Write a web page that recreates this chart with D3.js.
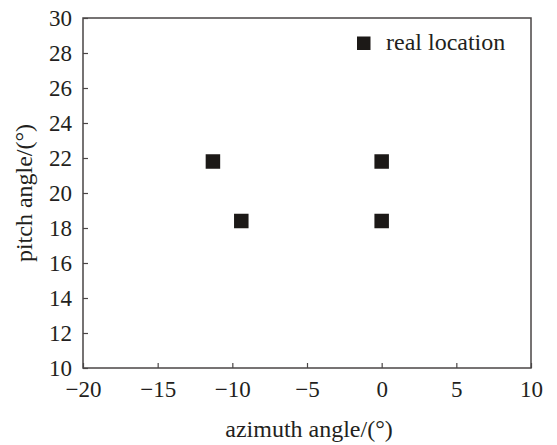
<!DOCTYPE html>
<html>
<head>
<meta charset="utf-8">
<script src="https://cdn.jsdelivr.net/npm/d3@7"></script>
<style>
  body { margin: 0; background: #fff; }
</style>
</head>
<body>
<div id="chart"></div>
<script>
// data
let azimuth = [-11.3, -9.4, 0, 0];
let pitch = [21.8, 18.4, 21.8, 18.4];
let x_ticks = [-20, -15, -10, -5, 0, 5, 10];
let y_ticks = [10, 12, 14, 16, 18, 20, 22, 24, 26, 28, 30];
let series_name = "real location";

let width = 557, height = 445;
let margin = {top: 18, right: 26, bottom: 77, left: 83};
let font = "'Liberation Serif', 'Times New Roman', serif";

let svg = d3.select("#chart")
            .append("svg")
            .attr("width", width)
            .attr("height", height);

let x = d3.scaleLinear()
          .domain([-20, 10])
          .range([margin.left, width - margin.right]);

let y = d3.scaleLinear()
          .domain([10, 30])
          .range([height - margin.bottom, margin.top]);

let axis_color = "#4a4646";

// frame
svg.append("rect")
   .attr("x", x(-20))
   .attr("y", y(30))
   .attr("width", x(10) - x(-20))
   .attr("height", y(10) - y(30))
   .style("fill", "none")
   .style("stroke", axis_color)
   .style("stroke-width", 1.5);

// bottom axis, ticks inside
svg.append("g")
   .attr("transform", "translate(0," + y(10) + ")")
   .attr("font-family", font)
   .call(d3.axisBottom(x).tickValues(x_ticks).tickSize(-5).tickPadding(13)
           .tickFormat(d => d < 0 ? "\u2212" + Math.abs(d) : d))
   .call(g => g.select(".domain").remove())
   .call(g => g.selectAll("line").attr("stroke", axis_color).attr("stroke-width", 1.2))
   .call(g => g.selectAll("text").style("font-family", font).style("font-size", "23px").attr("fill", "#231f20"));

// left axis, ticks inside
svg.append("g")
   .attr("transform", "translate(" + x(-20) + ",0)")
   .attr("font-family", font)
   .call(d3.axisLeft(y).tickValues(y_ticks).tickSize(-5).tickPadding(11))
   .call(g => g.select(".domain").remove())
   .call(g => g.selectAll("line").attr("stroke", axis_color).attr("stroke-width", 1.2))
   .call(g => g.selectAll("text").style("font-family", font).style("font-size", "23px").attr("fill", "#231f20"));

// axis titles
svg.append("text")
   .attr("x", 309)
   .attr("y", 437)
   .attr("text-anchor", "middle")
   .style("font-family", font)
   .style("font-size", "24px")
   .style("fill", "#231f20")
   .text("azimuth angle/(\u00b0)");

svg.append("text")
   .attr("transform", "translate(32," + ((y(10) + y(30)) / 2) + ") rotate(-90)")
   .attr("text-anchor", "middle")
   .style("font-family", font)
   .style("font-size", "24px")
   .style("fill", "#231f20")
   .text("pitch angle/(\u00b0)");

// points
let s = 14.5;
svg.append("g")
   .selectAll("rect")
   .data(azimuth.map((a, i) => ({a: a, p: pitch[i]})))
   .join("rect")
   .attr("x", d => x(d.a) - s / 2)
   .attr("y", d => y(d.p) - s / 2)
   .attr("width", s)
   .attr("height", s)
   .style("fill", "#1c1917");

// legend
svg.append("rect")
   .attr("x", 357)
   .attr("y", 36.5)
   .attr("width", 13.5)
   .attr("height", 13.5)
   .style("fill", "#1c1917");

svg.append("text")
   .attr("x", 386)
   .attr("y", 50)
   .style("font-family", font)
   .style("font-size", "24px")
   .style("fill", "#231f20")
   .text(series_name);
</script>
</body>
</html>
